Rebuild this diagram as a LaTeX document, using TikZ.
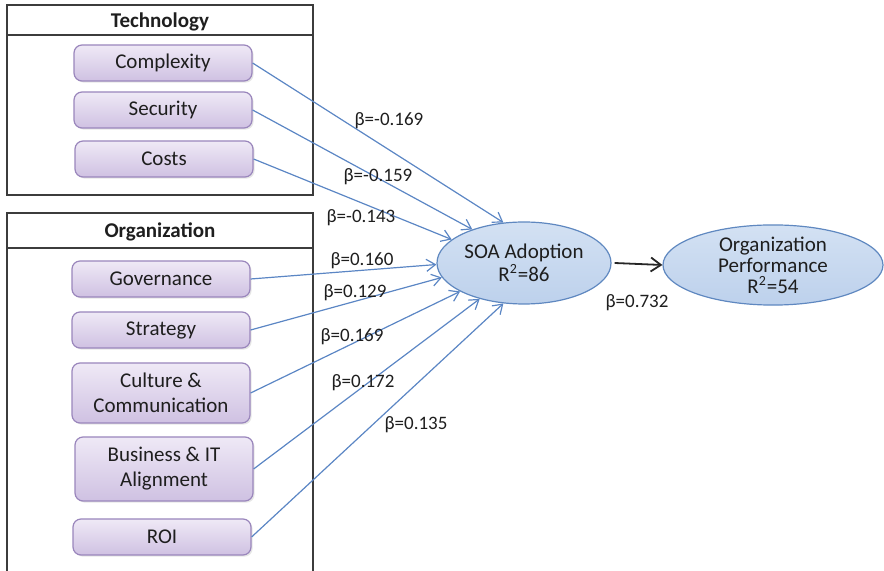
\documentclass[tikz,border=0pt]{standalone}
\usepackage{fontspec}
\setmainfont{Carlito}
\usetikzlibrary{arrows.meta,shapes.geometric,shadows}
\definecolor{framegray}{HTML}{3C3C3C}
\definecolor{lavtop}{HTML}{EFE9F6}
\definecolor{lavbot}{HTML}{CFC1E2}
\definecolor{lavline}{HTML}{9A86BC}
\definecolor{pathblue}{HTML}{5B86C4}
\definecolor{elltop}{HTML}{D3E1F3}
\definecolor{ellbot}{HTML}{BDD1EC}
\definecolor{ellline}{HTML}{5F88C0}
\definecolor{inktext}{HTML}{1E1E1E}
\tikzset{
  factor/.style={draw=lavline, line width=0.6pt, rounded corners=4pt,
    top color=lavtop, bottom color=lavbot, minimum width=89pt,
    minimum height=18pt, align=center, font=\fontsize{10.5}{12.5}\selectfont,
    text=inktext, inner sep=1pt,
    drop shadow={opacity=0.2, shadow xshift=0.8pt, shadow yshift=-0.8pt}},
  construct/.style={ellipse, draw=ellline, line width=0.6pt,
    top color=elltop, bottom color=ellbot,
    align=center, font=\fontsize{10.5}{10.5}\selectfont, text=inktext,
    inner sep=0pt},
  frame/.style={draw=framegray, line width=0.8pt},
  grouptitle/.style={font=\bfseries\fontsize{10.5}{12}\selectfont, text=inktext},
  path/.style={draw=pathblue, line width=0.6pt,
    -{Straight Barb[length=4.5pt,width=6pt]}},
  mainpath/.style={draw=black!85, line width=0.9pt,
    -{Straight Barb[length=5pt,width=7pt]}},
  beta/.style={font=\fontsize{9.5}{11}\selectfont, text=inktext, inner sep=1pt}
}
\newcommand{\rsq}{R\textsuperscript{\scriptsize 2}}
\begin{document}
\begin{tikzpicture}[x=0.5pt,y=-0.5pt]
\useasboundingbox (0,0) rectangle (884,571);

% group frames
\draw[frame] (7,5) rectangle (313,195);
\draw[frame] (7,35) -- (313,35);
\node[grouptitle] (techtitle) at (160,22) {Technology};
\draw[frame] (7,575) -- (7,213) -- (313,213) -- (313,575);
\draw[frame] (7,248) -- (313,248);
\node[grouptitle] (orgtitle) at (160,232) {Organization};

% factor boxes
\node[factor] (complexity) at (163,63) {Complexity};
\node[factor] (security) at (163,110) {Security};
\node[factor] (costs) at (164,159) {Costs};
\node[factor] (governance) at (161,279) {Governance};
\node[factor] (strategy) at (161,330) {Strategy};
\node[factor, minimum height=30pt] (culture) at (161,393) {Culture \&\\Communication};
\node[factor, minimum height=32pt] (business) at (164,469) {Business \& IT\\Alignment};
\node[factor] (roi) at (162,537) {ROI};

% constructs
\node[construct, minimum width=87pt, minimum height=41pt] (soa) at (524,263)
  {SOA Adoption\\[1pt]\rsq=86};
\node[construct, minimum width=110pt, minimum height=40pt] (perf) at (773,265)
  {Organization\\Performance\\\rsq=54};

% paths into SOA adoption
\draw[path] (complexity.east) -- (soa.117);
\draw[path] (security.east) -- (soa.147);
\draw[path] (costs.east) -- (soa.162);
\draw[path] (governance.east) -- (soa.181);
\draw[path] (strategy.east) -- (soa.190);
\draw[path] (culture.east) -- (soa.204);
\draw[path] (business.east) -- (soa.219);
\draw[path] (roi.east) -- (soa.243);
\path (soa.east) ++(3,0) coordinate (soaout);
\draw[mainpath] (soaout) -- (perf.west);

% path coefficients
\node[beta] (b1) at (389,121) {β=-0.169};
\node[beta] (b2) at (378,177) {β=-0.159};
\node[beta] (b3) at (361,218) {β=-0.143};
\node[beta] (b4) at (362,261) {β=0.160};
\node[beta] (b5) at (355,293) {β=0.129};
\node[beta] (b6) at (352,337) {β=0.169};
\node[beta] (b7) at (363,383) {β=0.172};
\node[beta] (b8) at (416,425) {β=0.135};
\node[beta] (b9) at (637,303) {β=0.732};
\end{tikzpicture}
\end{document}
